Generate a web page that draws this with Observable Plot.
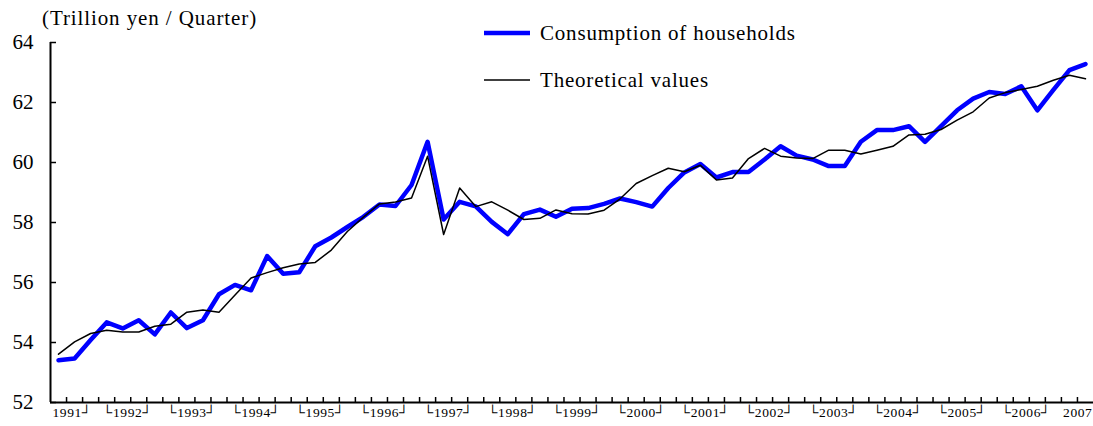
<!DOCTYPE html>
<html>
<head>
<meta charset="utf-8">
<script src="https://cdn.jsdelivr.net/npm/d3@7"></script>
<script src="https://cdn.jsdelivr.net/npm/@observablehq/plot@0.6"></script>
<style>
  body { margin: 0; background: #fff; }
  #wrap { position: relative; width: 1093px; height: 426px; font-family: "Liberation Serif", "Times New Roman", serif; color: #000; }
  #title { position: absolute; left: 42px; top: 6px; font-size: 21px; letter-spacing: 0.9px; white-space: nowrap; }
  .leg { position: absolute; left: 484px; display: flex; align-items: center; font-size: 21px; letter-spacing: 0.8px; white-space: nowrap; }
  .leg svg { margin-right: 10px; }
  #chart { position: absolute; left: 0; top: 0; }
  g[aria-label="text"] text { letter-spacing: 0.6px; }
</style>
</head>
<body>
<div id="wrap">
  <div id="chart"></div>
  <div id="title">(Trillion yen / Quarter)</div>
  <div class="leg" style="top:20px"><svg width="46" height="26"><line x1="0" x2="46" y1="13" y2="13" stroke="#0000ff" stroke-width="4.5"/></svg><span>Consumption of households</span></div>
  <div class="leg" style="top:67px"><svg width="46" height="26"><line x1="0" x2="46" y1="13" y2="13" stroke="#000" stroke-width="1.5"/></svg><span>Theoretical values</span></div>
</div>
<script>
// Quarterly data, 1991 Q1 .. 2007 Q1 (trillion yen / quarter)
const firstYear = 1991;
const years = [1991, 1992, 1993, 1994, 1995, 1996, 1997, 1998, 1999, 2000, 2001, 2002, 2003, 2004, 2005, 2006, 2007];
const yearLabels = ["1991┘", "└1992┘", "└1993┘", "└1994┘", "└1995┘", "└1996┘", "└1997┘", "└1998┘", "└1999┘", "└2000┘", "└2001┘", "└2002┘", "└2003┘", "└2004┘", "└2005┘", "└2006┘", "2007"];
const yTicks = [52, 54, 56, 58, 60, 62, 64];

const consumption = [
  53.41, 53.47, 54.08, 54.67,
  54.47, 54.74, 54.27, 55.00,
  54.48, 54.74, 55.61, 55.92,
  55.74, 56.88, 56.29, 56.34,
  57.21, 57.50, 57.85, 58.19,
  58.60, 58.55, 59.25, 60.69,
  58.10, 58.69, 58.54, 58.02,
  57.61, 58.28, 58.43, 58.19,
  58.46, 58.48, 58.62, 58.80,
  58.68, 58.53, 59.15, 59.67,
  59.95, 59.50, 59.68, 59.68,
  60.10, 60.54, 60.23, 60.10,
  59.88, 59.88, 60.69, 61.08,
  61.08, 61.21, 60.69, 61.21,
  61.74, 62.13, 62.35, 62.28,
  62.54, 61.74, 62.42, 63.08,
  63.28
];

const theoretical = [
  53.61, 54.02, 54.30, 54.41,
  54.35, 54.35, 54.54, 54.61,
  55.01, 55.08, 55.01, 55.58,
  56.15, 56.33, 56.49, 56.62,
  56.67, 57.08, 57.70, 58.18,
  58.62, 58.68, 58.82, 60.21,
  57.60, 59.15, 58.53, 58.69,
  58.41, 58.10, 58.14, 58.42,
  58.29, 58.28, 58.41, 58.79,
  59.30, 59.56, 59.81, 59.69,
  59.91, 59.42, 59.48, 60.13,
  60.47, 60.21, 60.15, 60.13,
  60.41, 60.41, 60.28, 60.41,
  60.54, 60.92, 60.94, 61.10,
  61.41, 61.69, 62.15, 62.33,
  62.43, 62.54, 62.74, 62.91,
  62.79
];

const n = consumption.length;
const xDomain = [-0.5, n - 0.5];
const boundaries = d3.range(0.5, n - 0.5, 1);
const labelRows = years.map((y, k) => ({ pos: (y - firstYear) * 4, label: yearLabels[k] }));
const midRows = labelRows.slice(1, -1);
const firstRow = labelRows.slice(0, 1);
const lastRow = labelRows.slice(-1);

const labelFont = '"Liberation Serif", "Times New Roman", serif';

const chart = Plot.plot({
  width: 1093,
  height: 426,
  marginTop: 42,
  marginBottom: 24,
  marginLeft: 50,
  marginRight: 0,
  style: { fontFamily: labelFont, background: "white", color: "#000", overflow: "visible" },
  x: { type: "linear", domain: xDomain, label: null },
  y: { domain: [yTicks[0], yTicks[yTicks.length - 1]], label: null },
  marks: [
    Plot.axisY(yTicks, { tickSize: -6, tickFormat: () => "", strokeWidth: 1.5, label: null }),
    Plot.axisY(yTicks, { tickSize: 0, tickPadding: 17, fontSize: 21, tickFormat: d => String(d), label: null }),
    Plot.axisX(boundaries, { tickSize: -5, tickFormat: () => "", strokeWidth: 1.5, label: null }),
    Plot.ruleY([yTicks[0]], { strokeWidth: 2 }),
    Plot.ruleX([xDomain[0]], { strokeWidth: 2 }),
    Plot.lineY(consumption, { x: (d, i) => i, y: d => d, stroke: "#0000ff", strokeWidth: 4.5 }),
    Plot.lineY(theoretical, { x: (d, i) => i, y: d => d, stroke: "#000", strokeWidth: 1.5 }),
    Plot.text(midRows, { x: "pos", text: "label", frameAnchor: "bottom", lineAnchor: "top", dy: 5, dx: 5, fontSize: 13.5 }),
    Plot.text(firstRow, { x: "pos", text: "label", frameAnchor: "bottom", lineAnchor: "top", dy: 5, dx: -6, textAnchor: "start", fontSize: 13.5 }),
    Plot.text(lastRow, { x: "pos", text: "label", frameAnchor: "bottom", lineAnchor: "top", dy: 5, dx: 7, textAnchor: "end", fontSize: 13.5 })
  ]
});
document.getElementById("chart").appendChild(chart);
</script>
</body>
</html>
